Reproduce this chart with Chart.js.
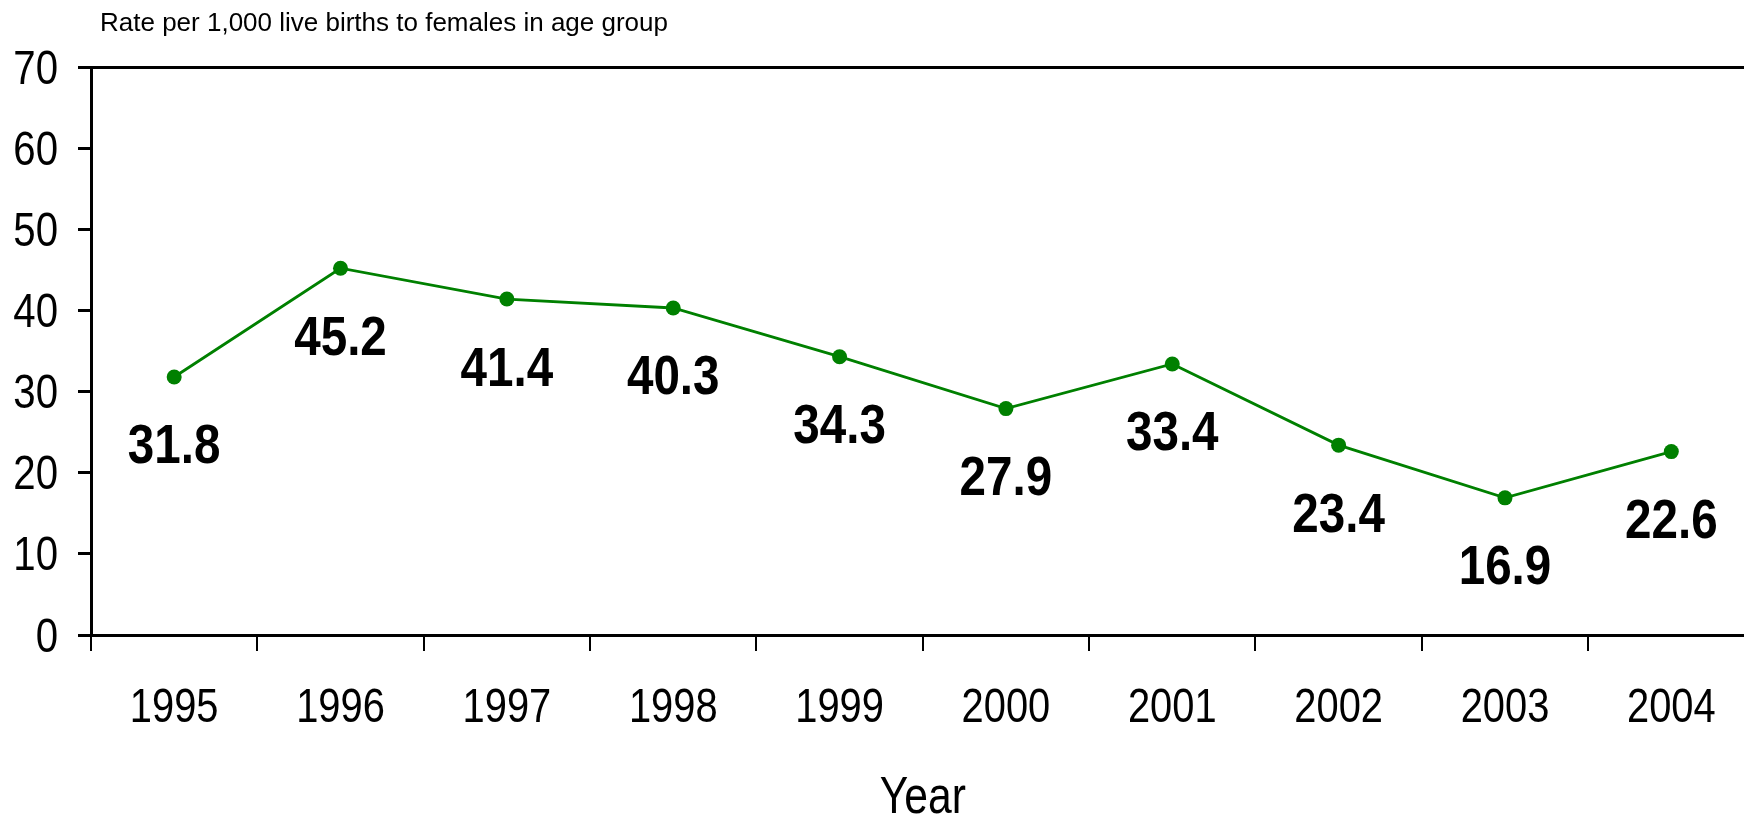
<!DOCTYPE html>
<html>
<head>
<meta charset="utf-8">
<script src="https://cdn.jsdelivr.net/npm/chart.js@4"></script>
<style>
    html, body { margin: 0; padding: 0; background: #fff; overflow: hidden; }
    #wrap { position: absolute; left: 0; top: 0; width: 1762px; height: 830px; }
</style>
</head>
<body>
<div id="wrap"><canvas id="rate-chart" width="1762" height="830"></canvas></div>
<script>
// chart data
const years = ['1995', '1996', '1997', '1998', '1999', '2000', '2001', '2002', '2003', '2004'];
const rates = [31.8, 45.2, 41.4, 40.3, 34.3, 27.9, 33.4, 23.4, 16.9, 22.6];
const yTicks = [0, 10, 20, 30, 40, 50, 60, 70];

const sans = "'Liberation Sans', Arial, sans-serif";

document.addEventListener('DOMContentLoaded', () => {
    const ctx = document.getElementById('rate-chart').getContext('2d');

    //no narrow face installed, so squeeze the regular one
    function narrowText(c, text, x, y, font, align, squeeze) {
        c.save();
        c.font = font;
        c.fillStyle = '#000';
        c.textAlign = align;
        c.textBaseline = 'middle';
        c.translate(x, y);
        c.scale(squeeze, 1);
        c.fillText(text, 0, 0);
        c.restore();
    }

    //tick labels, axis title and value labels
    const textLayer = {
        id: 'textLayer',
        afterDraw(chart) {
            const c = chart.ctx;
            const xs = chart.scales.x;
            const ys = chart.scales.y;
            const area = chart.chartArea;

            ys.ticks.forEach((t, i) => {
                narrowText(c, String(t.value), 58, ys.getPixelForTick(i) + 3, '49px ' + sans, 'right', 0.82);
            });
            years.forEach((y, i) => {
                narrowText(c, y, xs.getPixelForTick(i), 709, '48px ' + sans, 'center', 0.83);
            });
            narrowText(c, 'Year', (area.left + area.right) / 2, 799, '52px ' + sans, 'center', 0.82);

            const meta = chart.getDatasetMeta(0);
            meta.data.forEach((pt, i) => {
                narrowText(c, rates[i].toFixed(1), pt.x, pt.y + 71, 'bold 56px ' + sans, 'center', 0.85);
            });

            c.save();
            c.font = '26px ' + sans;
            c.fillStyle = '#000';
            c.textAlign = 'left';
            c.textBaseline = 'middle';
            c.fillText('Rate per 1,000 live births to females in age group', 100, 24);
            c.restore();
        }
    };

    new Chart(ctx, {
        type: 'line',
        data: {
            labels: years,
            datasets: [{
                data: rates,
                borderColor: '#008000',
                backgroundColor: '#008000',
                borderWidth: 2.8,
                pointRadius: 7.5,
                pointBorderWidth: 0,
                tension: 0
            }]
        },
        options: {
            responsive: false,
            animation: false,
            layout: { padding: { top: 67, left: 0, right: 4, bottom: 0 } },
            plugins: {
                legend: { display: false },
                tooltip: { enabled: false },
                title: { display: false }
            },
            scales: {
                x: {
                    offset: true,
                    grid: {
                        offset: true,
                        drawOnChartArea: false,
                        color: '#000',
                        tickLength: 16,
                        lineWidth: 2
                    },
                    border: { color: '#000', width: 3 },
                    ticks: { display: false },
                    afterFit(scale) { scale.height = 195; }
                },
                y: {
                    min: 0,
                    max: 70,
                    afterBuildTicks(scale) {
                        scale.ticks = yTicks.map(v => ({ value: v }));
                    },
                    grid: {
                        color: c => (c.tick && c.tick.value === 70) ? '#000' : 'rgba(0,0,0,0)',
                        tickColor: '#000',
                        tickLength: 13,
                        lineWidth: 3
                    },
                    border: { color: '#000', width: 3 },
                    ticks: { display: false },
                    afterFit(scale) { scale.width = 91; }
                }
            }
        },
        plugins: [textLayer]
    });
});
</script>
</body>
</html>
